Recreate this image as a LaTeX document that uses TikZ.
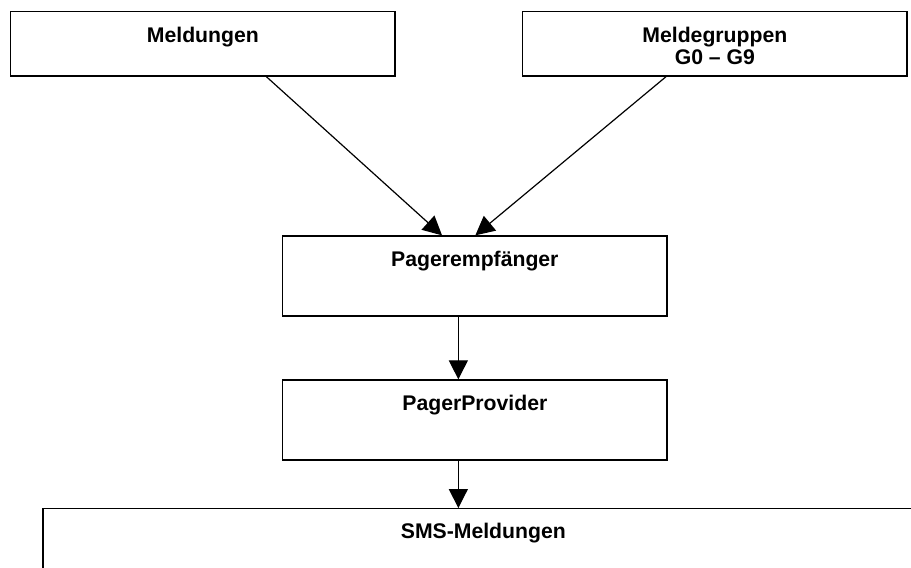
\documentclass[tikz,border=0pt]{standalone}
\usepackage{fontspec}
\setmainfont{Liberation Sans}
\usetikzlibrary{arrows.meta}
\begin{document}
\begin{tikzpicture}[x=1pt, y=-1pt, line width=1.3pt,
    box/.style={draw, rectangle, inner sep=0pt, minimum width=384.3pt, minimum height=#1},
    box/.default=64.3pt,
    title/.style={anchor=base, align=center, inner sep=0pt,
                  font=\bfseries\fontsize{21.2}{22}\selectfont},
    flow/.style={-{Triangle[length=19pt,width=19pt]}, line width=1.2pt}]

    % page size of the reference
    \useasboundingbox (0,0) rectangle (911,568);

    % --- boxes ---
    \node[box] (meld) at (202.85,43.85) {};
    \node[box] (gruppen) at (714.85,43.85) {};
    \node[box=80pt] (empf) at (474.85,276) {};
    \node[box=80pt] (prov) at (474.85,420) {};
    \node[box=120pt, minimum width=880.6pt] (sms) at (483.3,568.7) {};

    % --- texts, base 31pt below the top edge (last line for two lines) ---
    \node[title] (meldtext) at ([yshift=-31.3pt]meld.north) {Meldungen};
    \node[title] (gruppentext) at ([yshift=-53.3pt]gruppen.north) {Meldegruppen\\G0 – G9};
    \node[title] (empftext) at ([yshift=-31pt]empf.north) {Pagerempfänger};
    \node[title] (provtext) at ([yshift=-30.7pt]prov.north) {PagerProvider};
    \node[title] (smstext) at ([yshift=-30.5pt]sms.north) {SMS-Meldungen};

    % --- arrows ---
    \draw[flow] ([xshift=256.3pt]meld.south west) -- ([xshift=160pt]empf.north west);
    \draw[flow] ([xshift=144pt]gruppen.south west) -- ([xshift=193.3pt]empf.north west);
    \draw[flow] ([xshift=176.3pt]empf.south west) -- ([xshift=176.3pt]prov.north west);
    \draw[flow] ([xshift=176.3pt]prov.south west) -- ([xshift=176.3pt]prov.south west |- sms.north);

\end{tikzpicture}
\end{document}
